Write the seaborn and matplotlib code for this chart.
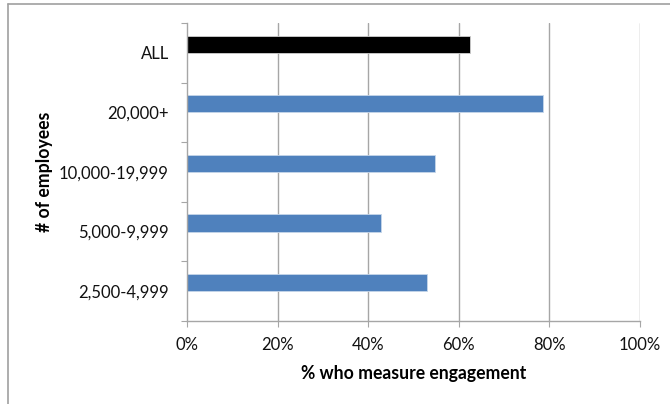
import numpy as np
import pandas as pd
import matplotlib
matplotlib.use("Agg")
import matplotlib.pyplot as plt
from matplotlib.lines import Line2D
from matplotlib.ticker import PercentFormatter
import seaborn as sns

# data
categories = ["ALL", "20,000+", "10,000-19,999", "5,000-9,999", "2,500-4,999"]
shares = [0.625, 0.786, 0.547, 0.429, 0.529]
x_ticks = [0.0, 0.2, 0.4, 0.6, 0.8, 1.0]

sns.set_theme(style="white")
plt.rcParams["font.family"] = ["Lato", "DejaVu Sans"]

df = pd.DataFrame({"group": categories, "share": shares})
df["slot"] = "top"
df_all = df[df["group"] == "ALL"]
df_size = df[df["group"] != "ALL"]

fig = plt.figure(figsize=(6.7, 4.04), dpi=100)
ax = fig.add_axes([0.279, 0.2054, 0.676, 0.7376])

grid_col = "#a6a6a6"
# two slots per category like the excel clustered bar (second slot empty)
for part, col, edge in [(df_all, "black", "#d0d0d0"), (df_size, "#4f81bd", "#c6d6ea")]:
    sns.barplot(data=part, x="share", y="group", hue="slot",
                hue_order=["top", "empty"], order=categories,
                palette={"top": col, "empty": col}, width=0.58,
                saturation=1, dodge=True, legend=False, ax=ax,
                edgecolor=edge, linewidth=0.6)

ax.set_xlim(0, 1)
ax.set_ylim(len(categories) - 0.5, -0.5)
ax.set_xticks(x_ticks)
ax.xaxis.set_major_formatter(PercentFormatter(1.0, decimals=0))
for v in x_ticks[1:]:
    ax.axvline(v, color=grid_col, lw=1.0, zorder=0)

# tick marks at category boundaries, labels at centres
ax.set_yticks(np.arange(len(categories) + 1) - 0.5, labels=[])
ax.set_yticks(np.arange(len(categories)), labels=categories, minor=True)
ax.tick_params(axis="y", which="major", left=True, length=4.3, width=0.8,
               color=grid_col, direction="out")
ax.tick_params(axis="y", which="minor", left=True, length=0, pad=13,
               labelsize=12, labelcolor="#111111")
ax.tick_params(axis="x", bottom=True, length=4.3, width=0.8, color=grid_col,
               direction="out", pad=7.5, labelsize=12, labelcolor="#111111")

for s in ["top", "right"]:
    ax.spines[s].set_visible(False)
for s in ["left", "bottom"]:
    ax.spines[s].set_color(grid_col)
    ax.spines[s].set_linewidth(1.0)

ax.set_xlabel("% who measure engagement", fontsize=12.7, fontweight="bold",
              labelpad=8, color="black")
ax.set_ylabel("# of employees", fontsize=12.7, fontweight="bold", color="black")
ax.yaxis.set_label_coords(-0.296, 0.5)

# outer frame (only left and top edges visible in the crop)
fig.add_artist(Line2D([7.5 / 670, 7.5 / 670], [0, 1 - 3.5 / 404],
                      transform=fig.transFigure, color="#a0a0a0", lw=1.2))
fig.add_artist(Line2D([7.5 / 670, 1], [1 - 3.5 / 404, 1 - 3.5 / 404],
                      transform=fig.transFigure, color="#a0a0a0", lw=1.2))

fig.savefig("out.png", dpi=100)
